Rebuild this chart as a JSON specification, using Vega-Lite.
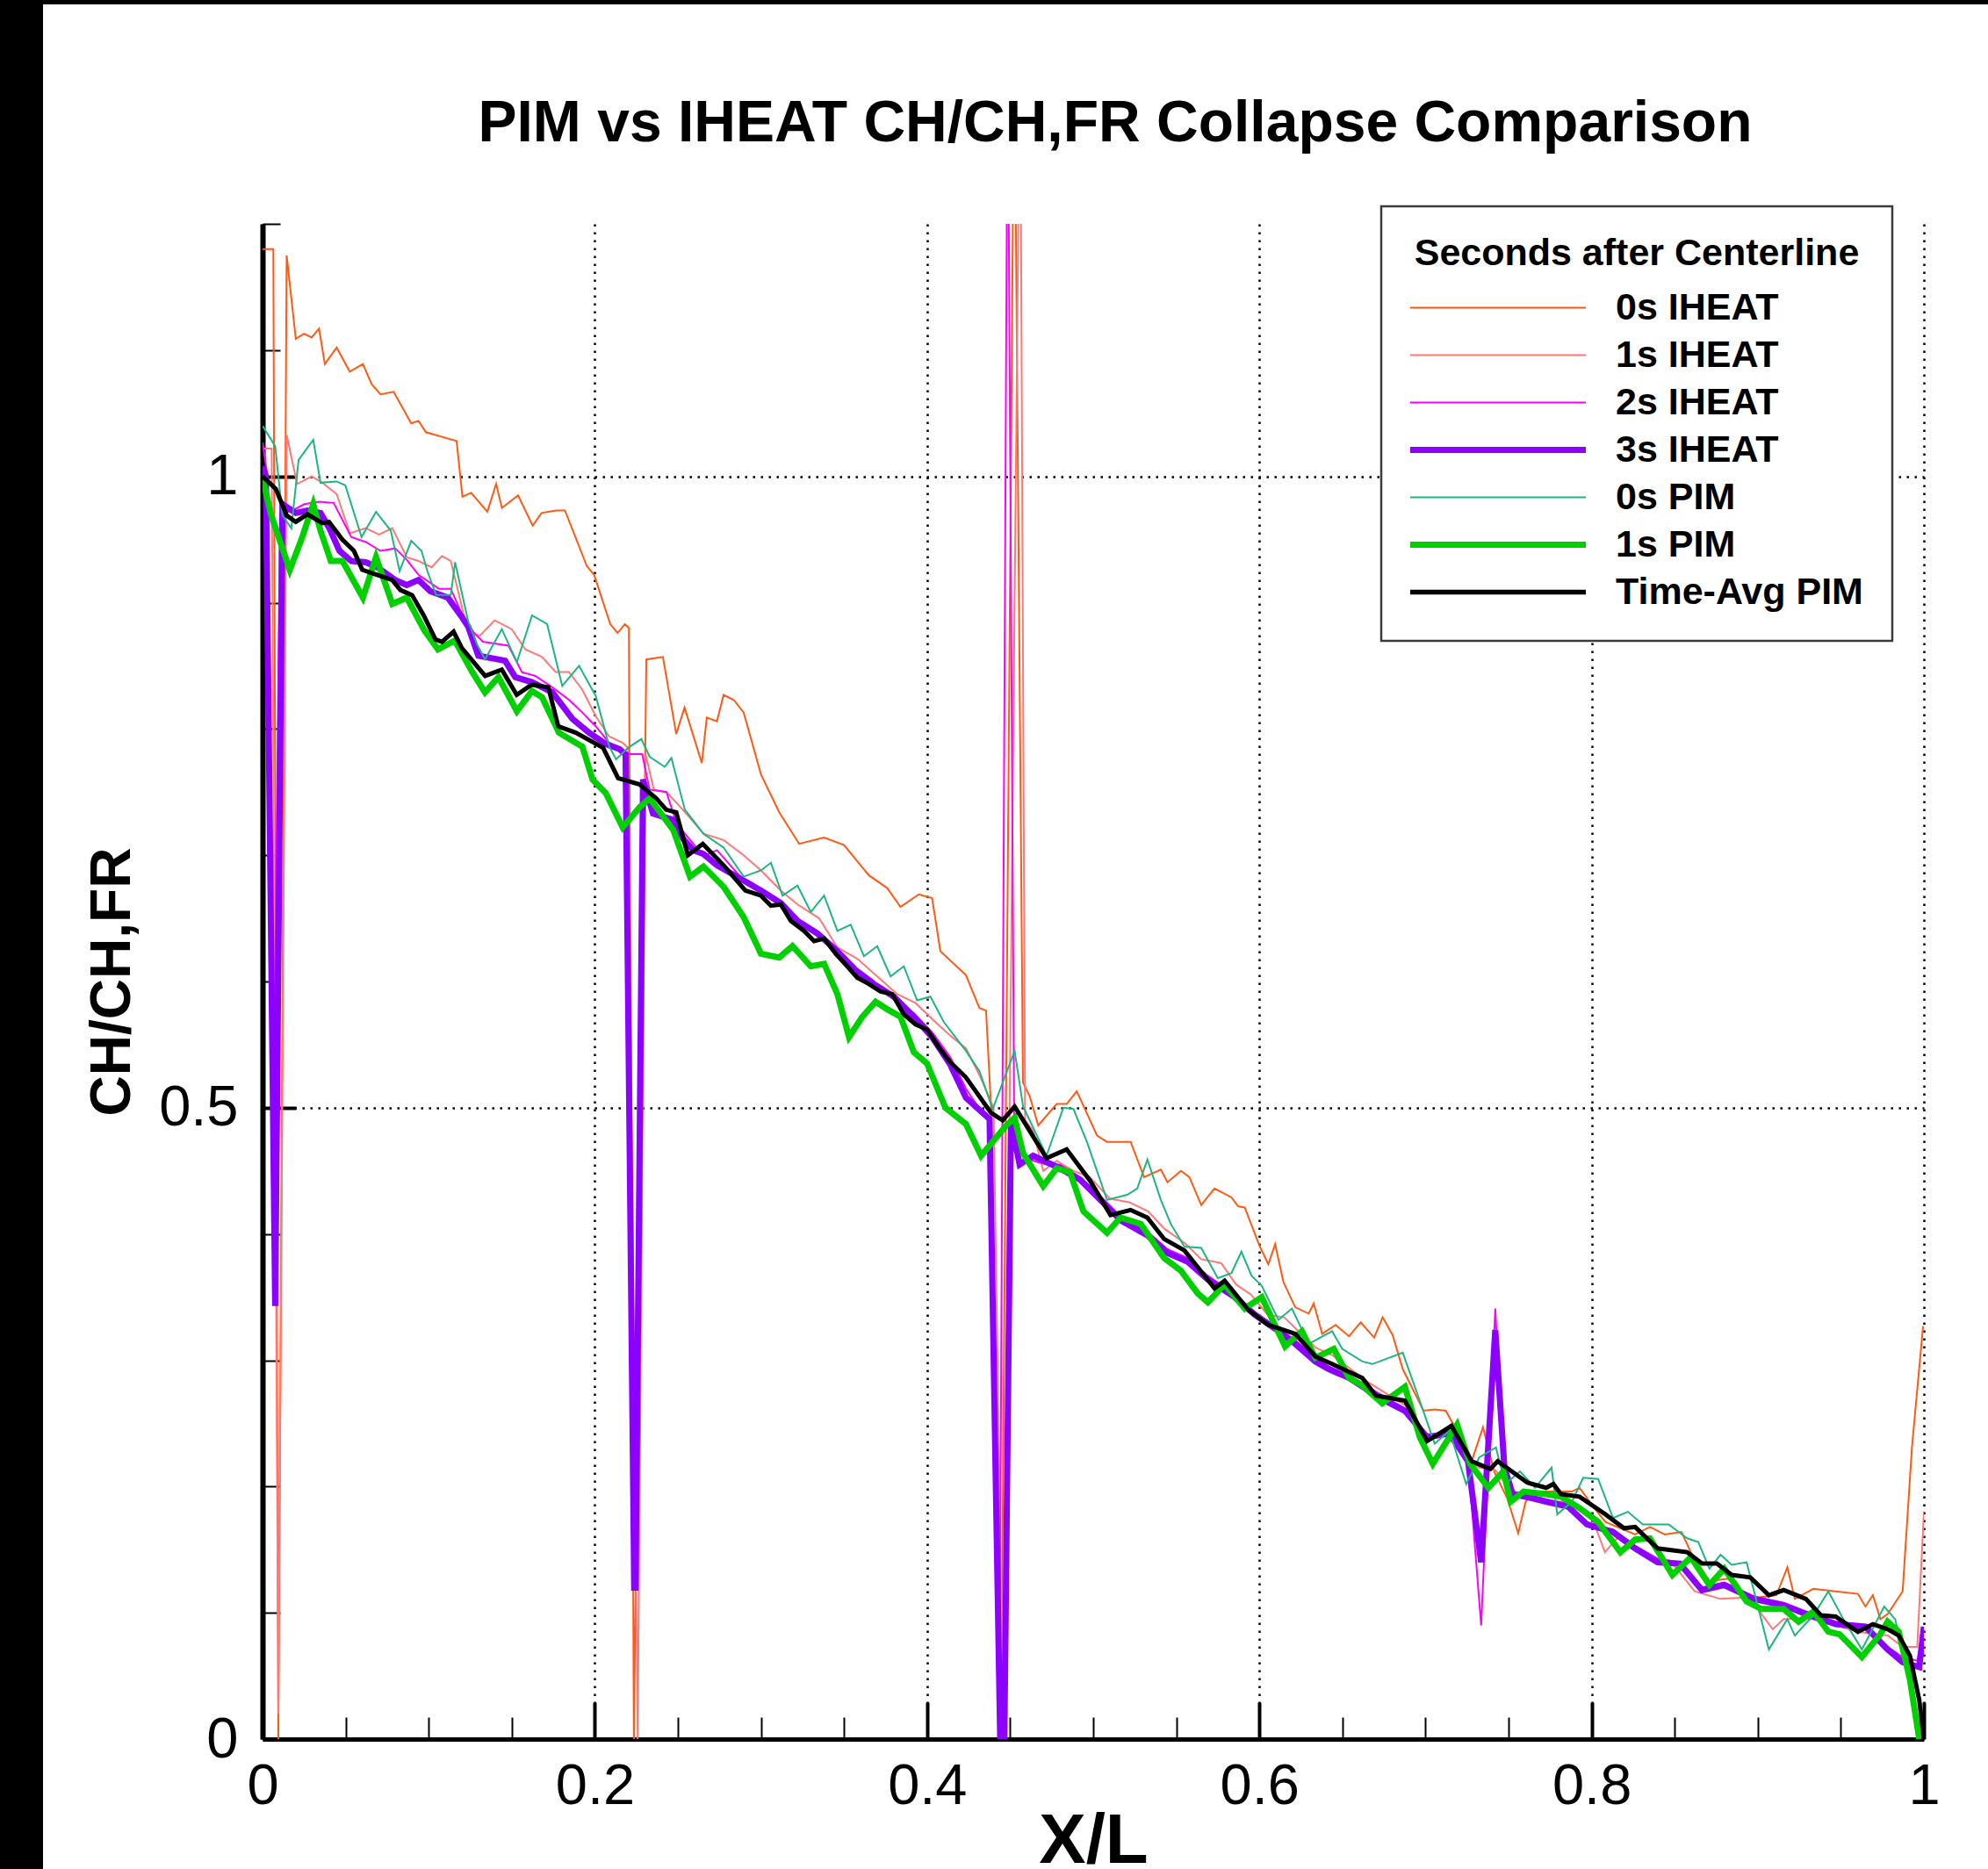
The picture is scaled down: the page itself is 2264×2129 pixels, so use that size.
{
"$schema": "https://vega.github.io/schema/vega-lite/v6.json",
"width": 1892,
"height": 1726,
"autosize": "none",
"padding": {"left": 299, "top": 255, "right": 73, "bottom": 148},
"background": "black",
"title": {"text": "PIM vs IHEAT CH/CH,FR Collapse Comparison", "font": "Liberation Sans", "fontSize": 66, "fontWeight": "bold", "color": "black", "anchor": "middle", "frame": "group", "dx": 25, "baseline": "alphabetic", "offset": -4},
"data": {"values": [
{"s":"0s IHEAT","x":0,"y":1.18},{"s":"0s IHEAT","x":0.0065,"y":1.18},{"s":"0s IHEAT","x":0.0095,"y":0},{"s":"0s IHEAT","x":0.0145,"y":1.175},{"s":"0s IHEAT","x":0.02,"y":1.109},{"s":"0s IHEAT","x":0.025,"y":1.113},{"s":"0s IHEAT","x":0.0296,"y":1.11},{"s":"0s IHEAT","x":0.034,"y":1.117},{"s":"0s IHEAT","x":0.0375,"y":1.089},{"s":"0s IHEAT","x":0.0446,"y":1.102},{"s":"0s IHEAT","x":0.0525,"y":1.083},{"s":"0s IHEAT","x":0.0604,"y":1.089},{"s":"0s IHEAT","x":0.0657,"y":1.073},{"s":"0s IHEAT","x":0.071,"y":1.065},{"s":"0s IHEAT","x":0.0789,"y":1.067},{"s":"0s IHEAT","x":0.0895,"y":1.042},{"s":"0s IHEAT","x":0.0939,"y":1.044},{"s":"0s IHEAT","x":0.0983,"y":1.035},{"s":"0s IHEAT","x":0.1168,"y":1.028},{"s":"0s IHEAT","x":0.1203,"y":0.984},{"s":"0s IHEAT","x":0.1256,"y":0.987},{"s":"0s IHEAT","x":0.1353,"y":0.972},{"s":"0s IHEAT","x":0.1406,"y":0.994},{"s":"0s IHEAT","x":0.1441,"y":0.975},{"s":"0s IHEAT","x":0.1538,"y":0.985},{"s":"0s IHEAT","x":0.1626,"y":0.961},{"s":"0s IHEAT","x":0.1679,"y":0.971},{"s":"0s IHEAT","x":0.1767,"y":0.973},{"s":"0s IHEAT","x":0.182,"y":0.973},{"s":"0s IHEAT","x":0.1952,"y":0.929},{"s":"0s IHEAT","x":0.1996,"y":0.922},{"s":"0s IHEAT","x":0.2093,"y":0.883},{"s":"0s IHEAT","x":0.2137,"y":0.876},{"s":"0s IHEAT","x":0.2181,"y":0.883},{"s":"0s IHEAT","x":0.2205,"y":0.88},{"s":"0s IHEAT","x":0.2235,"y":0},{"s":"0s IHEAT","x":0.231,"y":0.855},{"s":"0s IHEAT","x":0.241,"y":0.857},{"s":"0s IHEAT","x":0.249,"y":0.796},{"s":"0s IHEAT","x":0.254,"y":0.817},{"s":"0s IHEAT","x":0.2644,"y":0.773},{"s":"0s IHEAT","x":0.2674,"y":0.809},{"s":"0s IHEAT","x":0.2735,"y":0.806},{"s":"0s IHEAT","x":0.2775,"y":0.827},{"s":"0s IHEAT","x":0.2836,"y":0.823},{"s":"0s IHEAT","x":0.2896,"y":0.813},{"s":"0s IHEAT","x":0.3,"y":0.764},{"s":"0s IHEAT","x":0.311,"y":0.734},{"s":"0s IHEAT","x":0.323,"y":0.709},{"s":"0s IHEAT","x":0.338,"y":0.714},{"s":"0s IHEAT","x":0.35,"y":0.708},{"s":"0s IHEAT","x":0.365,"y":0.684},{"s":"0s IHEAT","x":0.376,"y":0.674},{"s":"0s IHEAT","x":0.384,"y":0.659},{"s":"0s IHEAT","x":0.395,"y":0.669},{"s":"0s IHEAT","x":0.403,"y":0.666},{"s":"0s IHEAT","x":0.408,"y":0.624},{"s":"0s IHEAT","x":0.4234,"y":0.605},{"s":"0s IHEAT","x":0.4315,"y":0.579},{"s":"0s IHEAT","x":0.4355,"y":0.577},{"s":"0s IHEAT","x":0.4385,"y":0.5},{"s":"0s IHEAT","x":0.4445,"y":0},{"s":"0s IHEAT","x":0.4525,"y":1.35},{"s":"0s IHEAT","x":0.4577,"y":0.52},{"s":"0s IHEAT","x":0.4618,"y":0.509},{"s":"0s IHEAT","x":0.4669,"y":0.486},{"s":"0s IHEAT","x":0.478,"y":0.503},{"s":"0s IHEAT","x":0.484,"y":0.503},{"s":"0s IHEAT","x":0.4901,"y":0.513},{"s":"0s IHEAT","x":0.5023,"y":0.478},{"s":"0s IHEAT","x":0.5083,"y":0.473},{"s":"0s IHEAT","x":0.5225,"y":0.473},{"s":"0s IHEAT","x":0.5306,"y":0.445},{"s":"0s IHEAT","x":0.5407,"y":0.451},{"s":"0s IHEAT","x":0.5447,"y":0.441},{"s":"0s IHEAT","x":0.5528,"y":0.45},{"s":"0s IHEAT","x":0.5579,"y":0.445},{"s":"0s IHEAT","x":0.565,"y":0.423},{"s":"0s IHEAT","x":0.573,"y":0.436},{"s":"0s IHEAT","x":0.5832,"y":0.429},{"s":"0s IHEAT","x":0.5872,"y":0.422},{"s":"0s IHEAT","x":0.5912,"y":0.421},{"s":"0s IHEAT","x":0.6003,"y":0.39},{"s":"0s IHEAT","x":0.6054,"y":0.376},{"s":"0s IHEAT","x":0.6095,"y":0.392},{"s":"0s IHEAT","x":0.6145,"y":0.362},{"s":"0s IHEAT","x":0.6216,"y":0.342},{"s":"0s IHEAT","x":0.6297,"y":0.337},{"s":"0s IHEAT","x":0.6327,"y":0.345},{"s":"0s IHEAT","x":0.6378,"y":0.321},{"s":"0s IHEAT","x":0.6459,"y":0.328},{"s":"0s IHEAT","x":0.654,"y":0.319},{"s":"0s IHEAT","x":0.661,"y":0.33},{"s":"0s IHEAT","x":0.6691,"y":0.318},{"s":"0s IHEAT","x":0.6742,"y":0.334},{"s":"0s IHEAT","x":0.6802,"y":0.32},{"s":"0s IHEAT","x":0.6863,"y":0.293},{"s":"0s IHEAT","x":0.6988,"y":0.26},{"s":"0s IHEAT","x":0.7055,"y":0.261},{"s":"0s IHEAT","x":0.7122,"y":0.26},{"s":"0s IHEAT","x":0.719,"y":0.244},{"s":"0s IHEAT","x":0.7278,"y":0.22},{"s":"0s IHEAT","x":0.7346,"y":0.247},{"s":"0s IHEAT","x":0.7413,"y":0.212},{"s":"0s IHEAT","x":0.7491,"y":0.191},{"s":"0s IHEAT","x":0.7558,"y":0.163},{"s":"0s IHEAT","x":0.7603,"y":0.188},{"s":"0s IHEAT","x":0.7659,"y":0.196},{"s":"0s IHEAT","x":0.777,"y":0.196},{"s":"0s IHEAT","x":0.7882,"y":0.196},{"s":"0s IHEAT","x":0.7927,"y":0.199},{"s":"0s IHEAT","x":0.8016,"y":0.183},{"s":"0s IHEAT","x":0.8083,"y":0.172},{"s":"0s IHEAT","x":0.8262,"y":0.162},{"s":"0s IHEAT","x":0.8351,"y":0.168},{"s":"0s IHEAT","x":0.844,"y":0.162},{"s":"0s IHEAT","x":0.8541,"y":0.164},{"s":"0s IHEAT","x":0.8597,"y":0.148},{"s":"0s IHEAT","x":0.8709,"y":0.125},{"s":"0s IHEAT","x":0.8821,"y":0.127},{"s":"0s IHEAT","x":0.8933,"y":0.111},{"s":"0s IHEAT","x":0.9112,"y":0.114},{"s":"0s IHEAT","x":0.9178,"y":0.136},{"s":"0s IHEAT","x":0.9223,"y":0.111},{"s":"0s IHEAT","x":0.9335,"y":0.119},{"s":"0s IHEAT","x":0.9469,"y":0.117},{"s":"0s IHEAT","x":0.9603,"y":0.115},{"s":"0s IHEAT","x":0.9648,"y":0.105},{"s":"0s IHEAT","x":0.9693,"y":0.114},{"s":"0s IHEAT","x":0.9738,"y":0.095},{"s":"0s IHEAT","x":0.9782,"y":0.099},{"s":"0s IHEAT","x":0.9872,"y":0.117},{"s":"0s IHEAT","x":0.9928,"y":0.231},{"s":"0s IHEAT","x":0.9995,"y":0.327},
{"s":"1s IHEAT","x":0,"y":1.022},{"s":"1s IHEAT","x":0.0055,"y":1.022},{"s":"1s IHEAT","x":0.0095,"y":0.02},{"s":"1s IHEAT","x":0.0145,"y":1.033},{"s":"1s IHEAT","x":0.0208,"y":0.994},{"s":"1s IHEAT","x":0.0296,"y":1.0},{"s":"1s IHEAT","x":0.036,"y":0.995},{"s":"1s IHEAT","x":0.0446,"y":0.986},{"s":"1s IHEAT","x":0.0525,"y":0.955},{"s":"1s IHEAT","x":0.0622,"y":0.959},{"s":"1s IHEAT","x":0.0701,"y":0.954},{"s":"1s IHEAT","x":0.0781,"y":0.959},{"s":"1s IHEAT","x":0.0868,"y":0.936},{"s":"1s IHEAT","x":0.0939,"y":0.933},{"s":"1s IHEAT","x":0.1018,"y":0.928},{"s":"1s IHEAT","x":0.108,"y":0.937},{"s":"1s IHEAT","x":0.1133,"y":0.933},{"s":"1s IHEAT","x":0.1238,"y":0.876},{"s":"1s IHEAT","x":0.1309,"y":0.874},{"s":"1s IHEAT","x":0.1397,"y":0.886},{"s":"1s IHEAT","x":0.15,"y":0.879},{"s":"1s IHEAT","x":0.1582,"y":0.863},{"s":"1s IHEAT","x":0.1683,"y":0.857},{"s":"1s IHEAT","x":0.1764,"y":0.845},{"s":"1s IHEAT","x":0.1845,"y":0.845},{"s":"1s IHEAT","x":0.1925,"y":0.831},{"s":"1s IHEAT","x":0.2006,"y":0.81},{"s":"1s IHEAT","x":0.2087,"y":0.794},{"s":"1s IHEAT","x":0.2168,"y":0.789},{"s":"1s IHEAT","x":0.22,"y":0.785},{"s":"1s IHEAT","x":0.2258,"y":0},{"s":"1s IHEAT","x":0.2305,"y":0.78},{"s":"1s IHEAT","x":0.2355,"y":0.752},{"s":"1s IHEAT","x":0.2431,"y":0.75},{"s":"1s IHEAT","x":0.253,"y":0.736},{"s":"1s IHEAT","x":0.2654,"y":0.717},{"s":"1s IHEAT","x":0.2775,"y":0.712},{"s":"1s IHEAT","x":0.2896,"y":0.7},{"s":"1s IHEAT","x":0.3,"y":0.688},{"s":"1s IHEAT","x":0.312,"y":0.672},{"s":"1s IHEAT","x":0.322,"y":0.661},{"s":"1s IHEAT","x":0.335,"y":0.65},{"s":"1s IHEAT","x":0.346,"y":0.627},{"s":"1s IHEAT","x":0.358,"y":0.618},{"s":"1s IHEAT","x":0.37,"y":0.604},{"s":"1s IHEAT","x":0.382,"y":0.59},{"s":"1s IHEAT","x":0.393,"y":0.583},{"s":"1s IHEAT","x":0.404,"y":0.569},{"s":"1s IHEAT","x":0.414,"y":0.557},{"s":"1s IHEAT","x":0.4234,"y":0.547},{"s":"1s IHEAT","x":0.4315,"y":0.526},{"s":"1s IHEAT","x":0.44,"y":0.5},{"s":"1s IHEAT","x":0.446,"y":0},{"s":"1s IHEAT","x":0.456,"y":1.35},{"s":"1s IHEAT","x":0.459,"y":0.49},{"s":"1s IHEAT","x":0.4638,"y":0.482},{"s":"1s IHEAT","x":0.4699,"y":0.45},{"s":"1s IHEAT","x":0.478,"y":0.458},{"s":"1s IHEAT","x":0.4881,"y":0.45},{"s":"1s IHEAT","x":0.498,"y":0.445},{"s":"1s IHEAT","x":0.51,"y":0.428},{"s":"1s IHEAT","x":0.522,"y":0.425},{"s":"1s IHEAT","x":0.533,"y":0.418},{"s":"1s IHEAT","x":0.543,"y":0.404},{"s":"1s IHEAT","x":0.555,"y":0.393},{"s":"1s IHEAT","x":0.565,"y":0.38},{"s":"1s IHEAT","x":0.577,"y":0.377},{"s":"1s IHEAT","x":0.586,"y":0.36},{"s":"1s IHEAT","x":0.595,"y":0.352},{"s":"1s IHEAT","x":0.605,"y":0.336},{"s":"1s IHEAT","x":0.615,"y":0.334},{"s":"1s IHEAT","x":0.622,"y":0.325},{"s":"1s IHEAT","x":0.634,"y":0.31},{"s":"1s IHEAT","x":0.644,"y":0.304},{"s":"1s IHEAT","x":0.655,"y":0.293},{"s":"1s IHEAT","x":0.665,"y":0.283},{"s":"1s IHEAT","x":0.676,"y":0.274},{"s":"1s IHEAT","x":0.688,"y":0.264},{"s":"1s IHEAT","x":0.7,"y":0.242},{"s":"1s IHEAT","x":0.712,"y":0.24},{"s":"1s IHEAT","x":0.722,"y":0.229},{"s":"1s IHEAT","x":0.732,"y":0.215},{"s":"1s IHEAT","x":0.742,"y":0.213},{"s":"1s IHEAT","x":0.752,"y":0.196},{"s":"1s IHEAT","x":0.762,"y":0.192},{"s":"1s IHEAT","x":0.772,"y":0.188},{"s":"1s IHEAT","x":0.782,"y":0.188},{"s":"1s IHEAT","x":0.792,"y":0.183},{"s":"1s IHEAT","x":0.8,"y":0.176},{"s":"1s IHEAT","x":0.808,"y":0.148},{"s":"1s IHEAT","x":0.816,"y":0.16},{"s":"1s IHEAT","x":0.826,"y":0.152},{"s":"1s IHEAT","x":0.838,"y":0.143},{"s":"1s IHEAT","x":0.85,"y":0.137},{"s":"1s IHEAT","x":0.862,"y":0.117},{"s":"1s IHEAT","x":0.8776,"y":0.111},{"s":"1s IHEAT","x":0.89,"y":0.112},{"s":"1s IHEAT","x":0.9,"y":0.103},{"s":"1s IHEAT","x":0.909,"y":0.087},{"s":"1s IHEAT","x":0.9156,"y":0.095},{"s":"1s IHEAT","x":0.9335,"y":0.095},{"s":"1s IHEAT","x":0.9469,"y":0.09},{"s":"1s IHEAT","x":0.96,"y":0.085},{"s":"1s IHEAT","x":0.9782,"y":0.082},{"s":"1s IHEAT","x":0.9872,"y":0.073},{"s":"1s IHEAT","x":0.996,"y":0.073},{"s":"1s IHEAT","x":1,"y":0.18},
{"s":"2s IHEAT","x":0,"y":1.027},{"s":"2s IHEAT","x":0.003,"y":1.0},{"s":"2s IHEAT","x":0.0061,"y":0.403},{"s":"2s IHEAT","x":0.0105,"y":0.97},{"s":"2s IHEAT","x":0.018,"y":0.973},{"s":"2s IHEAT","x":0.0252,"y":0.978},{"s":"2s IHEAT","x":0.034,"y":0.98},{"s":"2s IHEAT","x":0.0428,"y":0.979},{"s":"2s IHEAT","x":0.0534,"y":0.952},{"s":"2s IHEAT","x":0.0622,"y":0.948},{"s":"2s IHEAT","x":0.071,"y":0.941},{"s":"2s IHEAT","x":0.0798,"y":0.943},{"s":"2s IHEAT","x":0.0868,"y":0.934},{"s":"2s IHEAT","x":0.0939,"y":0.922},{"s":"2s IHEAT","x":0.1062,"y":0.911},{"s":"2s IHEAT","x":0.1133,"y":0.911},{"s":"2s IHEAT","x":0.1203,"y":0.89},{"s":"2s IHEAT","x":0.1274,"y":0.876},{"s":"2s IHEAT","x":0.1327,"y":0.869},{"s":"2s IHEAT","x":0.148,"y":0.866},{"s":"2s IHEAT","x":0.1561,"y":0.845},{"s":"2s IHEAT","x":0.1642,"y":0.842},{"s":"2s IHEAT","x":0.1744,"y":0.833},{"s":"2s IHEAT","x":0.1845,"y":0.823},{"s":"2s IHEAT","x":0.1925,"y":0.813},{"s":"2s IHEAT","x":0.2006,"y":0.802},{"s":"2s IHEAT","x":0.2087,"y":0.789},{"s":"2s IHEAT","x":0.2158,"y":0.784},{"s":"2s IHEAT","x":0.2195,"y":0.78},{"s":"2s IHEAT","x":0.2285,"y":0.78},{"s":"2s IHEAT","x":0.233,"y":0.752},{"s":"2s IHEAT","x":0.2431,"y":0.75},{"s":"2s IHEAT","x":0.2492,"y":0.725},{"s":"2s IHEAT","x":0.2593,"y":0.709},{"s":"2s IHEAT","x":0.2654,"y":0.699},{"s":"2s IHEAT","x":0.2735,"y":0.704},{"s":"2s IHEAT","x":0.2876,"y":0.683},{"s":"2s IHEAT","x":0.3,"y":0.672},{"s":"2s IHEAT","x":0.311,"y":0.66},{"s":"2s IHEAT","x":0.322,"y":0.648},{"s":"2s IHEAT","x":0.334,"y":0.636},{"s":"2s IHEAT","x":0.346,"y":0.623},{"s":"2s IHEAT","x":0.357,"y":0.61},{"s":"2s IHEAT","x":0.368,"y":0.597},{"s":"2s IHEAT","x":0.38,"y":0.586},{"s":"2s IHEAT","x":0.392,"y":0.575},{"s":"2s IHEAT","x":0.403,"y":0.56},{"s":"2s IHEAT","x":0.414,"y":0.54},{"s":"2s IHEAT","x":0.4234,"y":0.515},{"s":"2s IHEAT","x":0.4325,"y":0.497},{"s":"2s IHEAT","x":0.4385,"y":0.49},{"s":"2s IHEAT","x":0.4435,"y":0},{"s":"2s IHEAT","x":0.4485,"y":1.35},{"s":"2s IHEAT","x":0.4525,"y":0.47},{"s":"2s IHEAT","x":0.4578,"y":0.462},{"s":"2s IHEAT","x":0.4638,"y":0.458},{"s":"2s IHEAT","x":0.472,"y":0.455},{"s":"2s IHEAT","x":0.48,"y":0.455},{"s":"2s IHEAT","x":0.4921,"y":0.445},{"s":"2s IHEAT","x":0.5043,"y":0.43},{"s":"2s IHEAT","x":0.5164,"y":0.414},{"s":"2s IHEAT","x":0.5326,"y":0.402},{"s":"2s IHEAT","x":0.5447,"y":0.388},{"s":"2s IHEAT","x":0.5569,"y":0.381},{"s":"2s IHEAT","x":0.569,"y":0.367},{"s":"2s IHEAT","x":0.5852,"y":0.352},{"s":"2s IHEAT","x":0.5973,"y":0.338},{"s":"2s IHEAT","x":0.6095,"y":0.327},{"s":"2s IHEAT","x":0.6216,"y":0.316},{"s":"2s IHEAT","x":0.6337,"y":0.302},{"s":"2s IHEAT","x":0.6418,"y":0.295},{"s":"2s IHEAT","x":0.654,"y":0.288},{"s":"2s IHEAT","x":0.6742,"y":0.272},{"s":"2s IHEAT","x":0.6876,"y":0.262},{"s":"2s IHEAT","x":0.701,"y":0.241},{"s":"2s IHEAT","x":0.7144,"y":0.243},{"s":"2s IHEAT","x":0.7256,"y":0.222},{"s":"2s IHEAT","x":0.7335,"y":0.09},{"s":"2s IHEAT","x":0.742,"y":0.341},{"s":"2s IHEAT","x":0.747,"y":0.21},{"s":"2s IHEAT","x":0.7525,"y":0.196},{"s":"2s IHEAT","x":0.7636,"y":0.193},{"s":"2s IHEAT","x":0.7726,"y":0.19},{"s":"2s IHEAT","x":0.786,"y":0.186},{"s":"2s IHEAT","x":0.7972,"y":0.17},{"s":"2s IHEAT","x":0.8129,"y":0.166},{"s":"2s IHEAT","x":0.8262,"y":0.153},{"s":"2s IHEAT","x":0.8397,"y":0.143},{"s":"2s IHEAT","x":0.8531,"y":0.14},{"s":"2s IHEAT","x":0.8664,"y":0.12},{"s":"2s IHEAT","x":0.8798,"y":0.124},{"s":"2s IHEAT","x":0.8977,"y":0.113},{"s":"2s IHEAT","x":0.9156,"y":0.108},{"s":"2s IHEAT","x":0.929,"y":0.101},{"s":"2s IHEAT","x":0.9469,"y":0.093},{"s":"2s IHEAT","x":0.9648,"y":0.09},{"s":"2s IHEAT","x":0.9782,"y":0.073},{"s":"2s IHEAT","x":0.9872,"y":0.065},{"s":"2s IHEAT","x":0.996,"y":0.062},{"s":"2s IHEAT","x":1,"y":0.085},
{"s":"3s IHEAT","x":0,"y":1.008},{"s":"3s IHEAT","x":0.002,"y":1.0},{"s":"3s IHEAT","x":0.0076,"y":0.343},{"s":"3s IHEAT","x":0.012,"y":0.978},{"s":"3s IHEAT","x":0.02,"y":0.971},{"s":"3s IHEAT","x":0.027,"y":0.973},{"s":"3s IHEAT","x":0.0349,"y":0.971},{"s":"3s IHEAT","x":0.0402,"y":0.959},{"s":"3s IHEAT","x":0.0463,"y":0.941},{"s":"3s IHEAT","x":0.0534,"y":0.933},{"s":"3s IHEAT","x":0.0622,"y":0.932},{"s":"3s IHEAT","x":0.0692,"y":0.928},{"s":"3s IHEAT","x":0.0798,"y":0.918},{"s":"3s IHEAT","x":0.0868,"y":0.914},{"s":"3s IHEAT","x":0.0939,"y":0.918},{"s":"3s IHEAT","x":0.101,"y":0.909},{"s":"3s IHEAT","x":0.1115,"y":0.904},{"s":"3s IHEAT","x":0.1203,"y":0.888},{"s":"3s IHEAT","x":0.1238,"y":0.881},{"s":"3s IHEAT","x":0.1299,"y":0.858},{"s":"3s IHEAT","x":0.146,"y":0.854},{"s":"3s IHEAT","x":0.1521,"y":0.841},{"s":"3s IHEAT","x":0.1622,"y":0.837},{"s":"3s IHEAT","x":0.1744,"y":0.829},{"s":"3s IHEAT","x":0.1865,"y":0.808},{"s":"3s IHEAT","x":0.1966,"y":0.797},{"s":"3s IHEAT","x":0.2067,"y":0.788},{"s":"3s IHEAT","x":0.2148,"y":0.784},{"s":"3s IHEAT","x":0.2185,"y":0.78},{"s":"3s IHEAT","x":0.2237,"y":0.12},{"s":"3s IHEAT","x":0.2245,"y":0.12},{"s":"3s IHEAT","x":0.229,"y":0.76},{"s":"3s IHEAT","x":0.235,"y":0.733},{"s":"3s IHEAT","x":0.2472,"y":0.728},{"s":"3s IHEAT","x":0.2532,"y":0.713},{"s":"3s IHEAT","x":0.2593,"y":0.704},{"s":"3s IHEAT","x":0.2654,"y":0.701},{"s":"3s IHEAT","x":0.2735,"y":0.692},{"s":"3s IHEAT","x":0.2896,"y":0.68},{"s":"3s IHEAT","x":0.3,"y":0.672},{"s":"3s IHEAT","x":0.312,"y":0.662},{"s":"3s IHEAT","x":0.322,"y":0.648},{"s":"3s IHEAT","x":0.334,"y":0.638},{"s":"3s IHEAT","x":0.346,"y":0.624},{"s":"3s IHEAT","x":0.357,"y":0.609},{"s":"3s IHEAT","x":0.368,"y":0.598},{"s":"3s IHEAT","x":0.38,"y":0.588},{"s":"3s IHEAT","x":0.392,"y":0.572},{"s":"3s IHEAT","x":0.403,"y":0.556},{"s":"3s IHEAT","x":0.414,"y":0.534},{"s":"3s IHEAT","x":0.4234,"y":0.508},{"s":"3s IHEAT","x":0.4376,"y":0.491},{"s":"3s IHEAT","x":0.444,"y":0},{"s":"3s IHEAT","x":0.4465,"y":0},{"s":"3s IHEAT","x":0.4505,"y":0.49},{"s":"3s IHEAT","x":0.4557,"y":0.455},{"s":"3s IHEAT","x":0.4638,"y":0.462},{"s":"3s IHEAT","x":0.48,"y":0.452},{"s":"3s IHEAT","x":0.4921,"y":0.443},{"s":"3s IHEAT","x":0.5043,"y":0.427},{"s":"3s IHEAT","x":0.5164,"y":0.411},{"s":"3s IHEAT","x":0.5326,"y":0.399},{"s":"3s IHEAT","x":0.5447,"y":0.385},{"s":"3s IHEAT","x":0.5569,"y":0.378},{"s":"3s IHEAT","x":0.569,"y":0.364},{"s":"3s IHEAT","x":0.5852,"y":0.35},{"s":"3s IHEAT","x":0.5973,"y":0.336},{"s":"3s IHEAT","x":0.6095,"y":0.325},{"s":"3s IHEAT","x":0.6216,"y":0.313},{"s":"3s IHEAT","x":0.6337,"y":0.299},{"s":"3s IHEAT","x":0.6418,"y":0.293},{"s":"3s IHEAT","x":0.654,"y":0.286},{"s":"3s IHEAT","x":0.6742,"y":0.269},{"s":"3s IHEAT","x":0.6876,"y":0.26},{"s":"3s IHEAT","x":0.701,"y":0.239},{"s":"3s IHEAT","x":0.7144,"y":0.242},{"s":"3s IHEAT","x":0.7256,"y":0.22},{"s":"3s IHEAT","x":0.7335,"y":0.14},{"s":"3s IHEAT","x":0.742,"y":0.324},{"s":"3s IHEAT","x":0.7475,"y":0.215},{"s":"3s IHEAT","x":0.7525,"y":0.194},{"s":"3s IHEAT","x":0.7636,"y":0.191},{"s":"3s IHEAT","x":0.7726,"y":0.188},{"s":"3s IHEAT","x":0.786,"y":0.184},{"s":"3s IHEAT","x":0.7972,"y":0.17},{"s":"3s IHEAT","x":0.8129,"y":0.164},{"s":"3s IHEAT","x":0.8262,"y":0.151},{"s":"3s IHEAT","x":0.8397,"y":0.14},{"s":"3s IHEAT","x":0.8531,"y":0.139},{"s":"3s IHEAT","x":0.8664,"y":0.118},{"s":"3s IHEAT","x":0.8798,"y":0.122},{"s":"3s IHEAT","x":0.8977,"y":0.111},{"s":"3s IHEAT","x":0.9156,"y":0.106},{"s":"3s IHEAT","x":0.929,"y":0.099},{"s":"3s IHEAT","x":0.9469,"y":0.091},{"s":"3s IHEAT","x":0.9648,"y":0.089},{"s":"3s IHEAT","x":0.9782,"y":0.071},{"s":"3s IHEAT","x":0.9872,"y":0.061},{"s":"3s IHEAT","x":0.9972,"y":0.057},{"s":"3s IHEAT","x":1,"y":0.089},
{"s":"0s PIM","x":0,"y":1.04},{"s":"0s PIM","x":0.0076,"y":1.024},{"s":"0s PIM","x":0.012,"y":0.969},{"s":"0s PIM","x":0.0173,"y":0.959},{"s":"0s PIM","x":0.0217,"y":1.013},{"s":"0s PIM","x":0.0305,"y":1.029},{"s":"0s PIM","x":0.0349,"y":0.995},{"s":"0s PIM","x":0.0446,"y":0.996},{"s":"0s PIM","x":0.0498,"y":0.993},{"s":"0s PIM","x":0.0596,"y":0.952},{"s":"0s PIM","x":0.0683,"y":0.972},{"s":"0s PIM","x":0.0772,"y":0.957},{"s":"0s PIM","x":0.0825,"y":0.925},{"s":"0s PIM","x":0.0895,"y":0.949},{"s":"0s PIM","x":0.0957,"y":0.941},{"s":"0s PIM","x":0.0992,"y":0.925},{"s":"0s PIM","x":0.1045,"y":0.906},{"s":"0s PIM","x":0.1133,"y":0.906},{"s":"0s PIM","x":0.1159,"y":0.932},{"s":"0s PIM","x":0.1238,"y":0.885},{"s":"0s PIM","x":0.1291,"y":0.867},{"s":"0s PIM","x":0.1339,"y":0.855},{"s":"0s PIM","x":0.144,"y":0.879},{"s":"0s PIM","x":0.1531,"y":0.853},{"s":"0s PIM","x":0.1622,"y":0.89},{"s":"0s PIM","x":0.1713,"y":0.883},{"s":"0s PIM","x":0.1804,"y":0.834},{"s":"0s PIM","x":0.1905,"y":0.85},{"s":"0s PIM","x":0.2006,"y":0.826},{"s":"0s PIM","x":0.2087,"y":0.786},{"s":"0s PIM","x":0.2128,"y":0.776},{"s":"0s PIM","x":0.22,"y":0.785},{"s":"0s PIM","x":0.228,"y":0.792},{"s":"0s PIM","x":0.233,"y":0.778},{"s":"0s PIM","x":0.2421,"y":0.77},{"s":"0s PIM","x":0.2461,"y":0.777},{"s":"0s PIM","x":0.2542,"y":0.736},{"s":"0s PIM","x":0.2654,"y":0.717},{"s":"0s PIM","x":0.2775,"y":0.706},{"s":"0s PIM","x":0.2896,"y":0.683},{"s":"0s PIM","x":0.3,"y":0.688},{"s":"0s PIM","x":0.306,"y":0.694},{"s":"0s PIM","x":0.313,"y":0.668},{"s":"0s PIM","x":0.322,"y":0.676},{"s":"0s PIM","x":0.33,"y":0.655},{"s":"0s PIM","x":0.338,"y":0.668},{"s":"0s PIM","x":0.346,"y":0.64},{"s":"0s PIM","x":0.354,"y":0.645},{"s":"0s PIM","x":0.362,"y":0.62},{"s":"0s PIM","x":0.37,"y":0.628},{"s":"0s PIM","x":0.378,"y":0.604},{"s":"0s PIM","x":0.386,"y":0.612},{"s":"0s PIM","x":0.394,"y":0.585},{"s":"0s PIM","x":0.402,"y":0.588},{"s":"0s PIM","x":0.41,"y":0.568},{"s":"0s PIM","x":0.4234,"y":0.545},{"s":"0s PIM","x":0.4315,"y":0.529},{"s":"0s PIM","x":0.4395,"y":0.499},{"s":"0s PIM","x":0.4527,"y":0.545},{"s":"0s PIM","x":0.4578,"y":0.501},{"s":"0s PIM","x":0.4719,"y":0.462},{"s":"0s PIM","x":0.482,"y":0.5},{"s":"0s PIM","x":0.4881,"y":0.499},{"s":"0s PIM","x":0.4962,"y":0.473},{"s":"0s PIM","x":0.5083,"y":0.427},{"s":"0s PIM","x":0.5204,"y":0.431},{"s":"0s PIM","x":0.5265,"y":0.436},{"s":"0s PIM","x":0.5326,"y":0.459},{"s":"0s PIM","x":0.5407,"y":0.427},{"s":"0s PIM","x":0.5467,"y":0.408},{"s":"0s PIM","x":0.5549,"y":0.39},{"s":"0s PIM","x":0.565,"y":0.389},{"s":"0s PIM","x":0.575,"y":0.365},{"s":"0s PIM","x":0.5832,"y":0.369},{"s":"0s PIM","x":0.5892,"y":0.386},{"s":"0s PIM","x":0.5953,"y":0.367},{"s":"0s PIM","x":0.6014,"y":0.359},{"s":"0s PIM","x":0.6115,"y":0.332},{"s":"0s PIM","x":0.6196,"y":0.341},{"s":"0s PIM","x":0.6297,"y":0.313},{"s":"0s PIM","x":0.6438,"y":0.323},{"s":"0s PIM","x":0.6499,"y":0.309},{"s":"0s PIM","x":0.662,"y":0.299},{"s":"0s PIM","x":0.6681,"y":0.297},{"s":"0s PIM","x":0.6863,"y":0.306},{"s":"0s PIM","x":0.6944,"y":0.276},{"s":"0s PIM","x":0.7055,"y":0.234},{"s":"0s PIM","x":0.7144,"y":0.244},{"s":"0s PIM","x":0.7245,"y":0.202},{"s":"0s PIM","x":0.7323,"y":0.223},{"s":"0s PIM","x":0.7424,"y":0.231},{"s":"0s PIM","x":0.748,"y":0.202},{"s":"0s PIM","x":0.7569,"y":0.212},{"s":"0s PIM","x":0.7659,"y":0.199},{"s":"0s PIM","x":0.7759,"y":0.215},{"s":"0s PIM","x":0.7793,"y":0.178},{"s":"0s PIM","x":0.7882,"y":0.188},{"s":"0s PIM","x":0.7949,"y":0.207},{"s":"0s PIM","x":0.8039,"y":0.206},{"s":"0s PIM","x":0.8129,"y":0.175},{"s":"0s PIM","x":0.8218,"y":0.18},{"s":"0s PIM","x":0.8308,"y":0.17},{"s":"0s PIM","x":0.8464,"y":0.17},{"s":"0s PIM","x":0.8575,"y":0.159},{"s":"0s PIM","x":0.8642,"y":0.156},{"s":"0s PIM","x":0.8709,"y":0.135},{"s":"0s PIM","x":0.8776,"y":0.146},{"s":"0s PIM","x":0.8843,"y":0.138},{"s":"0s PIM","x":0.8933,"y":0.14},{"s":"0s PIM","x":0.9067,"y":0.071},{"s":"0s PIM","x":0.9178,"y":0.095},{"s":"0s PIM","x":0.9223,"y":0.082},{"s":"0s PIM","x":0.9335,"y":0.098},{"s":"0s PIM","x":0.9425,"y":0.117},{"s":"0s PIM","x":0.9515,"y":0.095},{"s":"0s PIM","x":0.9627,"y":0.071},{"s":"0s PIM","x":0.9761,"y":0.105},{"s":"0s PIM","x":0.9827,"y":0.095},{"s":"0s PIM","x":0.9916,"y":0.045},{"s":"0s PIM","x":0.997,"y":0},
{"s":"1s PIM","x":0,"y":0.999},{"s":"1s PIM","x":0.005,"y":0.97},{"s":"1s PIM","x":0.0164,"y":0.926},{"s":"1s PIM","x":0.0234,"y":0.95},{"s":"1s PIM","x":0.0305,"y":0.978},{"s":"1s PIM","x":0.0349,"y":0.957},{"s":"1s PIM","x":0.0411,"y":0.933},{"s":"1s PIM","x":0.0481,"y":0.933},{"s":"1s PIM","x":0.0604,"y":0.904},{"s":"1s PIM","x":0.0683,"y":0.936},{"s":"1s PIM","x":0.0781,"y":0.899},{"s":"1s PIM","x":0.0868,"y":0.904},{"s":"1s PIM","x":0.0974,"y":0.878},{"s":"1s PIM","x":0.1056,"y":0.863},{"s":"1s PIM","x":0.1157,"y":0.87},{"s":"1s PIM","x":0.1258,"y":0.846},{"s":"1s PIM","x":0.1339,"y":0.829},{"s":"1s PIM","x":0.142,"y":0.841},{"s":"1s PIM","x":0.1531,"y":0.814},{"s":"1s PIM","x":0.1622,"y":0.83},{"s":"1s PIM","x":0.1683,"y":0.825},{"s":"1s PIM","x":0.1784,"y":0.797},{"s":"1s PIM","x":0.1925,"y":0.786},{"s":"1s PIM","x":0.1986,"y":0.76},{"s":"1s PIM","x":0.2067,"y":0.749},{"s":"1s PIM","x":0.2168,"y":0.722},{"s":"1s PIM","x":0.227,"y":0.738},{"s":"1s PIM","x":0.233,"y":0.745},{"s":"1s PIM","x":0.2472,"y":0.72},{"s":"1s PIM","x":0.2573,"y":0.683},{"s":"1s PIM","x":0.2654,"y":0.691},{"s":"1s PIM","x":0.2775,"y":0.675},{"s":"1s PIM","x":0.2896,"y":0.651},{"s":"1s PIM","x":0.3,"y":0.622},{"s":"1s PIM","x":0.311,"y":0.619},{"s":"1s PIM","x":0.319,"y":0.628},{"s":"1s PIM","x":0.33,"y":0.612},{"s":"1s PIM","x":0.338,"y":0.614},{"s":"1s PIM","x":0.346,"y":0.59},{"s":"1s PIM","x":0.353,"y":0.556},{"s":"1s PIM","x":0.361,"y":0.572},{"s":"1s PIM","x":0.369,"y":0.584},{"s":"1s PIM","x":0.376,"y":0.578},{"s":"1s PIM","x":0.384,"y":0.572},{"s":"1s PIM","x":0.392,"y":0.544},{"s":"1s PIM","x":0.4,"y":0.535},{"s":"1s PIM","x":0.411,"y":0.5},{"s":"1s PIM","x":0.4234,"y":0.487},{"s":"1s PIM","x":0.4325,"y":0.462},{"s":"1s PIM","x":0.4477,"y":0.486},{"s":"1s PIM","x":0.4527,"y":0.492},{"s":"1s PIM","x":0.4578,"y":0.464},{"s":"1s PIM","x":0.4699,"y":0.438},{"s":"1s PIM","x":0.478,"y":0.452},{"s":"1s PIM","x":0.486,"y":0.449},{"s":"1s PIM","x":0.4941,"y":0.418},{"s":"1s PIM","x":0.5083,"y":0.401},{"s":"1s PIM","x":0.5164,"y":0.413},{"s":"1s PIM","x":0.5286,"y":0.408},{"s":"1s PIM","x":0.5427,"y":0.381},{"s":"1s PIM","x":0.5528,"y":0.371},{"s":"1s PIM","x":0.5629,"y":0.353},{"s":"1s PIM","x":0.569,"y":0.346},{"s":"1s PIM","x":0.5791,"y":0.36},{"s":"1s PIM","x":0.5912,"y":0.341},{"s":"1s PIM","x":0.6014,"y":0.35},{"s":"1s PIM","x":0.6155,"y":0.311},{"s":"1s PIM","x":0.6256,"y":0.323},{"s":"1s PIM","x":0.6337,"y":0.302},{"s":"1s PIM","x":0.6448,"y":0.309},{"s":"1s PIM","x":0.654,"y":0.286},{"s":"1s PIM","x":0.661,"y":0.281},{"s":"1s PIM","x":0.674,"y":0.266},{"s":"1s PIM","x":0.6876,"y":0.279},{"s":"1s PIM","x":0.6966,"y":0.239},{"s":"1s PIM","x":0.7044,"y":0.218},{"s":"1s PIM","x":0.719,"y":0.249},{"s":"1s PIM","x":0.7268,"y":0.218},{"s":"1s PIM","x":0.7379,"y":0.199},{"s":"1s PIM","x":0.7469,"y":0.212},{"s":"1s PIM","x":0.7513,"y":0.188},{"s":"1s PIM","x":0.7591,"y":0.196},{"s":"1s PIM","x":0.7726,"y":0.194},{"s":"1s PIM","x":0.7815,"y":0.192},{"s":"1s PIM","x":0.7927,"y":0.183},{"s":"1s PIM","x":0.8039,"y":0.172},{"s":"1s PIM","x":0.8173,"y":0.148},{"s":"1s PIM","x":0.8262,"y":0.158},{"s":"1s PIM","x":0.8351,"y":0.159},{"s":"1s PIM","x":0.8486,"y":0.13},{"s":"1s PIM","x":0.8597,"y":0.144},{"s":"1s PIM","x":0.8709,"y":0.122},{"s":"1s PIM","x":0.8798,"y":0.135},{"s":"1s PIM","x":0.8933,"y":0.109},{"s":"1s PIM","x":0.9022,"y":0.103},{"s":"1s PIM","x":0.9156,"y":0.103},{"s":"1s PIM","x":0.9246,"y":0.093},{"s":"1s PIM","x":0.9335,"y":0.101},{"s":"1s PIM","x":0.9425,"y":0.085},{"s":"1s PIM","x":0.9492,"y":0.083},{"s":"1s PIM","x":0.9627,"y":0.065},{"s":"1s PIM","x":0.9738,"y":0.083},{"s":"1s PIM","x":0.9782,"y":0.093},{"s":"1s PIM","x":0.9849,"y":0.085},{"s":"1s PIM","x":0.9916,"y":0.047},{"s":"1s PIM","x":0.9972,"y":0},
{"s":"Time-Avg PIM","x":0,"y":1.0},{"s":"Time-Avg PIM","x":0.008,"y":0.99},{"s":"Time-Avg PIM","x":0.0146,"y":0.969},{"s":"Time-Avg PIM","x":0.02,"y":0.964},{"s":"Time-Avg PIM","x":0.027,"y":0.97},{"s":"Time-Avg PIM","x":0.036,"y":0.963},{"s":"Time-Avg PIM","x":0.04,"y":0.964},{"s":"Time-Avg PIM","x":0.048,"y":0.95},{"s":"Time-Avg PIM","x":0.055,"y":0.941},{"s":"Time-Avg PIM","x":0.06,"y":0.926},{"s":"Time-Avg PIM","x":0.069,"y":0.922},{"s":"Time-Avg PIM","x":0.078,"y":0.918},{"s":"Time-Avg PIM","x":0.083,"y":0.91},{"s":"Time-Avg PIM","x":0.09,"y":0.906},{"s":"Time-Avg PIM","x":0.097,"y":0.89},{"s":"Time-Avg PIM","x":0.104,"y":0.871},{"s":"Time-Avg PIM","x":0.108,"y":0.869},{"s":"Time-Avg PIM","x":0.115,"y":0.877},{"s":"Time-Avg PIM","x":0.12,"y":0.864},{"s":"Time-Avg PIM","x":0.134,"y":0.842},{"s":"Time-Avg PIM","x":0.144,"y":0.847},{"s":"Time-Avg PIM","x":0.153,"y":0.827},{"s":"Time-Avg PIM","x":0.162,"y":0.835},{"s":"Time-Avg PIM","x":0.172,"y":0.833},{"s":"Time-Avg PIM","x":0.178,"y":0.802},{"s":"Time-Avg PIM","x":0.1885,"y":0.797},{"s":"Time-Avg PIM","x":0.205,"y":0.785},{"s":"Time-Avg PIM","x":0.214,"y":0.761},{"s":"Time-Avg PIM","x":0.227,"y":0.756},{"s":"Time-Avg PIM","x":0.237,"y":0.745},{"s":"Time-Avg PIM","x":0.243,"y":0.736},{"s":"Time-Avg PIM","x":0.249,"y":0.734},{"s":"Time-Avg PIM","x":0.256,"y":0.7},{"s":"Time-Avg PIM","x":0.265,"y":0.709},{"s":"Time-Avg PIM","x":0.2775,"y":0.692},{"s":"Time-Avg PIM","x":0.2906,"y":0.672},{"s":"Time-Avg PIM","x":0.3,"y":0.668},{"s":"Time-Avg PIM","x":0.306,"y":0.66},{"s":"Time-Avg PIM","x":0.312,"y":0.661},{"s":"Time-Avg PIM","x":0.318,"y":0.648},{"s":"Time-Avg PIM","x":0.326,"y":0.64},{"s":"Time-Avg PIM","x":0.332,"y":0.632},{"s":"Time-Avg PIM","x":0.338,"y":0.634},{"s":"Time-Avg PIM","x":0.345,"y":0.622},{"s":"Time-Avg PIM","x":0.352,"y":0.612},{"s":"Time-Avg PIM","x":0.358,"y":0.603},{"s":"Time-Avg PIM","x":0.365,"y":0.598},{"s":"Time-Avg PIM","x":0.372,"y":0.592},{"s":"Time-Avg PIM","x":0.379,"y":0.59},{"s":"Time-Avg PIM","x":0.386,"y":0.574},{"s":"Time-Avg PIM","x":0.393,"y":0.566},{"s":"Time-Avg PIM","x":0.4,"y":0.562},{"s":"Time-Avg PIM","x":0.407,"y":0.548},{"s":"Time-Avg PIM","x":0.414,"y":0.536},{"s":"Time-Avg PIM","x":0.4234,"y":0.524},{"s":"Time-Avg PIM","x":0.4385,"y":0.496},{"s":"Time-Avg PIM","x":0.4455,"y":0.49},{"s":"Time-Avg PIM","x":0.4527,"y":0.501},{"s":"Time-Avg PIM","x":0.4719,"y":0.46},{"s":"Time-Avg PIM","x":0.484,"y":0.467},{"s":"Time-Avg PIM","x":0.4982,"y":0.442},{"s":"Time-Avg PIM","x":0.5104,"y":0.415},{"s":"Time-Avg PIM","x":0.5225,"y":0.419},{"s":"Time-Avg PIM","x":0.5326,"y":0.413},{"s":"Time-Avg PIM","x":0.5427,"y":0.396},{"s":"Time-Avg PIM","x":0.5549,"y":0.387},{"s":"Time-Avg PIM","x":0.573,"y":0.357},{"s":"Time-Avg PIM","x":0.5791,"y":0.363},{"s":"Time-Avg PIM","x":0.5933,"y":0.34},{"s":"Time-Avg PIM","x":0.6054,"y":0.328},{"s":"Time-Avg PIM","x":0.6216,"y":0.321},{"s":"Time-Avg PIM","x":0.6337,"y":0.303},{"s":"Time-Avg PIM","x":0.6438,"y":0.297},{"s":"Time-Avg PIM","x":0.662,"y":0.286},{"s":"Time-Avg PIM","x":0.6701,"y":0.272},{"s":"Time-Avg PIM","x":0.6876,"y":0.268},{"s":"Time-Avg PIM","x":0.701,"y":0.236},{"s":"Time-Avg PIM","x":0.7156,"y":0.248},{"s":"Time-Avg PIM","x":0.7278,"y":0.22},{"s":"Time-Avg PIM","x":0.739,"y":0.214},{"s":"Time-Avg PIM","x":0.7435,"y":0.22},{"s":"Time-Avg PIM","x":0.7614,"y":0.203},{"s":"Time-Avg PIM","x":0.7726,"y":0.199},{"s":"Time-Avg PIM","x":0.777,"y":0.202},{"s":"Time-Avg PIM","x":0.7815,"y":0.194},{"s":"Time-Avg PIM","x":0.7927,"y":0.192},{"s":"Time-Avg PIM","x":0.8083,"y":0.178},{"s":"Time-Avg PIM","x":0.8195,"y":0.167},{"s":"Time-Avg PIM","x":0.8262,"y":0.168},{"s":"Time-Avg PIM","x":0.8397,"y":0.151},{"s":"Time-Avg PIM","x":0.8575,"y":0.148},{"s":"Time-Avg PIM","x":0.8664,"y":0.139},{"s":"Time-Avg PIM","x":0.8754,"y":0.139},{"s":"Time-Avg PIM","x":0.8843,"y":0.13},{"s":"Time-Avg PIM","x":0.8955,"y":0.128},{"s":"Time-Avg PIM","x":0.9067,"y":0.114},{"s":"Time-Avg PIM","x":0.9156,"y":0.118},{"s":"Time-Avg PIM","x":0.929,"y":0.111},{"s":"Time-Avg PIM","x":0.938,"y":0.098},{"s":"Time-Avg PIM","x":0.9469,"y":0.097},{"s":"Time-Avg PIM","x":0.9603,"y":0.085},{"s":"Time-Avg PIM","x":0.9693,"y":0.091},{"s":"Time-Avg PIM","x":0.9782,"y":0.087},{"s":"Time-Avg PIM","x":0.9849,"y":0.082},{"s":"Time-Avg PIM","x":0.9916,"y":0.066},{"s":"Time-Avg PIM","x":0.9972,"y":0.031},{"s":"Time-Avg PIM","x":1,"y":0}
]},
"mark": {"type": "line", "clip": true, "strokeCap": "butt", "strokeJoin": "miter"},
"encoding": {
"x": {"field": "x", "type": "quantitative", "scale": {"domain": [0, 1], "nice": false, "zero": false},
 "axis": {"title": "X/L", "titleFont": "Liberation Sans", "titleFontSize": 80, "titleFontWeight": "bold", "titleColor": "black", "titlePadding": -26,
  "values": [0,0.05,0.1,0.15,0.2,0.25,0.3,0.35,0.4,0.45,0.5,0.55,0.6,0.65,0.7,0.75,0.8,0.85,0.9,0.95,1],
  "labelExpr": "abs(datum.value*5 - round(datum.value*5)) < 0.001 ? format(datum.value, '~g') : ''",
  "labelFont": "Liberation Sans", "labelFontSize": 65, "labelColor": "black", "labelPadding": 64, "labelFlush": false, "labelOverlap": false,
  "domainColor": "black", "domainWidth": 5,
  "tickColor": "black",
  "tickSize": {"condition": {"test": "abs(datum.value*5 - round(datum.value*5)) < 0.001", "value": -42}, "value": -25},
  "tickWidth": {"condition": {"test": "abs(datum.value*5 - round(datum.value*5)) < 0.001", "value": 4}, "value": 2},
  "grid": true, "gridColor": "black", "gridDash": [2.5, 6.5], "gridWidth": 2.5,
  "gridOpacity": {"condition": {"test": "abs(datum.value*5 - round(datum.value*5)) < 0.001", "value": 1}, "value": 0}}},
"y": {"field": "y", "type": "quantitative", "scale": {"domain": [0, 1.2], "nice": false, "zero": false},
 "axis": {"title": "CH/CH,FR", "titleFont": "Liberation Sans", "titleFontSize": 64, "titleFontWeight": "bold", "titleColor": "black", "titlePadding": 20,
  "values": [0,0.1,0.2,0.3,0.4,0.5,0.6,0.7,0.8,0.9,1,1.1,1.2],
  "labelExpr": "abs(datum.value*2 - round(datum.value*2)) < 0.001 ? format(datum.value, '~g') : ''",
  "labelFont": "Liberation Sans", "labelFontSize": 65, "labelColor": "black", "labelPadding": 66, "labelFlush": false, "labelOverlap": false,
  "domainColor": "black", "domainWidth": 6,
  "tickColor": "black",
  "tickSize": {"condition": {"test": "abs(datum.value*2 - round(datum.value*2)) < 0.001", "value": -38}, "value": -20},
  "tickWidth": {"condition": {"test": "abs(datum.value*2 - round(datum.value*2)) < 0.001", "value": 4}, "value": 2},
  "grid": true, "gridColor": "black", "gridDash": [2.5, 6.5], "gridWidth": 2.5,
  "gridOpacity": {"condition": {"test": "abs(datum.value*2 - round(datum.value*2)) < 0.001", "value": 1}, "value": 0}}},
"color": {"field": "s", "type": "nominal",
 "scale": {"domain": ["0s IHEAT","1s IHEAT","2s IHEAT","3s IHEAT","0s PIM","1s PIM","Time-Avg PIM"], "range": ["#FF5A14","#FF7878","#FF00FF","#8C00FF","#1DB580","#00D000","#000000"]},
 "legend": {"title": "Seconds after Centerline", "orient": "none", "legendX": 1274, "legendY": -20,
  "titleFont": "Liberation Sans", "titleFontSize": 43, "titleFontWeight": "bold", "titleColor": "black", "titleAnchor": "middle", "titlePadding": 18, "titleLimit": 900,
  "labelFont": "Liberation Sans", "labelFontSize": 43, "labelFontWeight": "bold", "labelColor": "black", "labelLimit": 900, "labelOffset": 191,
  "symbolType": "stroke", "symbolSize": 40000, "rowPadding": 10, "padding": 33,
  "strokeColor": "#3c3c3c", "fillColor": "white",
  "encode": {
   "legend": {"update": {"strokeWidth": {"value": 2.5}}},
   "symbols": {"update": {"x": {"value": 100}, "strokeWidth": {"signal": "datum.value === '3s IHEAT' || datum.value === '1s PIM' ? 7 : datum.value === 'Time-Avg PIM' ? 5.5 : 2"}}}
  }}},
"strokeWidth": {"condition": [{"test": "datum.s === '3s IHEAT' || datum.s === '1s PIM'", "value": 7}, {"test": "datum.s === 'Time-Avg PIM'", "value": 5}], "value": 2}
},
"config": {"view": {"stroke": "white", "strokeWidth": 500, "fill": "white"}}
}
